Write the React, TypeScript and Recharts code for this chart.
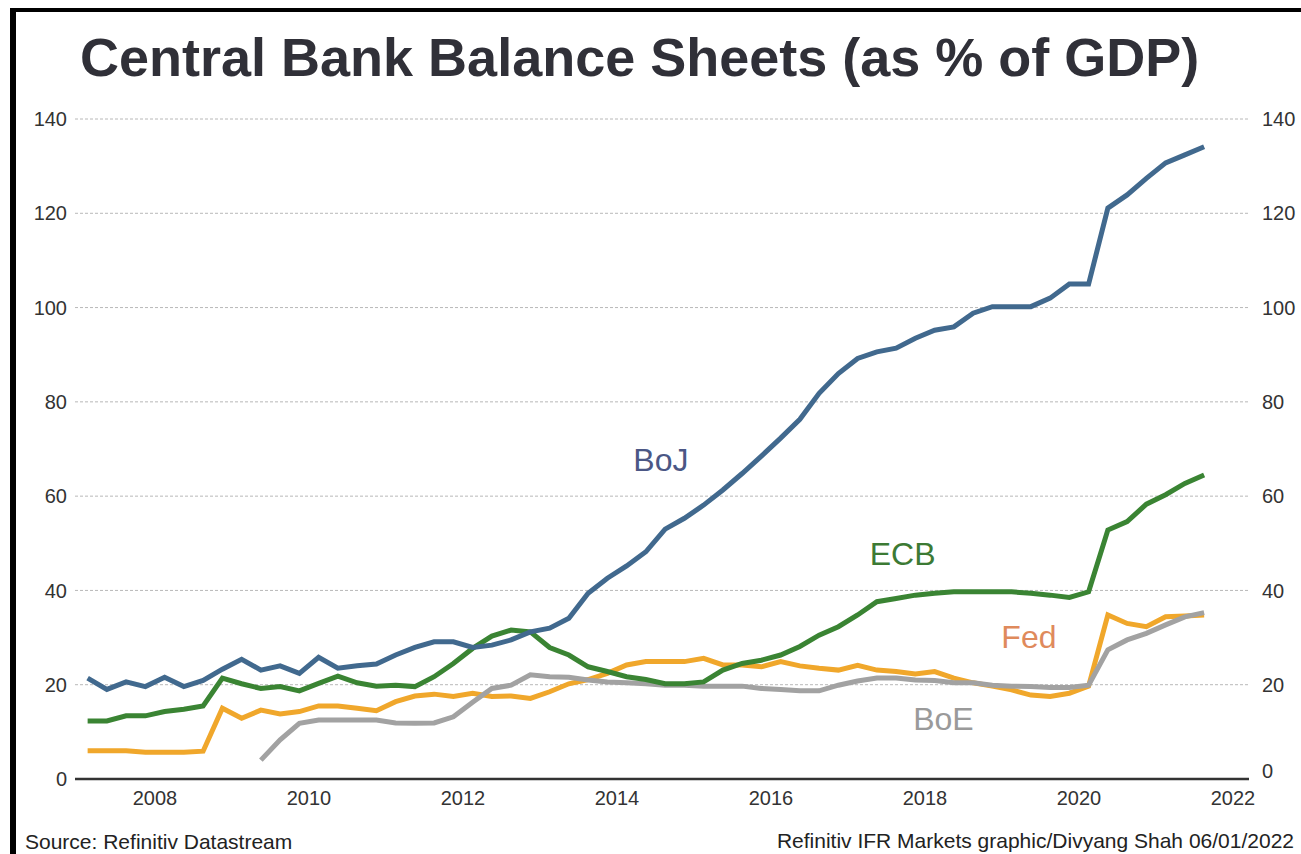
import { CartesianGrid, Line, LineChart, ReferenceDot, XAxis, YAxis } from "recharts";

// quarterly observations, 2007 Q1 .. 2021 Q3
const quarters = [
  "2007Q1", "2007Q2", "2007Q3", "2007Q4", "2008Q1", "2008Q2", "2008Q3", "2008Q4",
  "2009Q1", "2009Q2", "2009Q3", "2009Q4", "2010Q1", "2010Q2", "2010Q3", "2010Q4",
  "2011Q1", "2011Q2", "2011Q3", "2011Q4", "2012Q1", "2012Q2", "2012Q3", "2012Q4",
  "2013Q1", "2013Q2", "2013Q3", "2013Q4", "2014Q1", "2014Q2", "2014Q3", "2014Q4",
  "2015Q1", "2015Q2", "2015Q3", "2015Q4", "2016Q1", "2016Q2", "2016Q3", "2016Q4",
  "2017Q1", "2017Q2", "2017Q3", "2017Q4", "2018Q1", "2018Q2", "2018Q3", "2018Q4",
  "2019Q1", "2019Q2", "2019Q3", "2019Q4", "2020Q1", "2020Q2", "2020Q3", "2020Q4",
  "2021Q1", "2021Q2", "2021Q3",
];

const boj = [
  21.4, 19.0, 20.6, 19.6, 21.6, 19.6, 20.9, 23.3, 25.4, 23.1,
  24.0, 22.4, 25.8, 23.5, 24.0, 24.4, 26.3, 27.9, 29.1, 29.1,
  27.9, 28.4, 29.5, 31.2, 32.0, 34.1, 39.4, 42.6, 45.2, 48.2,
  53.0, 55.3, 58.1, 61.3, 64.8, 68.5, 72.3, 76.3, 81.8, 86.0,
  89.2, 90.6, 91.4, 93.5, 95.2, 95.9, 98.8, 100.2, 100.2, 100.2,
  102.0, 105.0, 105.0, 121.1, 123.9, 127.4, 130.7, 132.4, 134.1,
];

const ecb = [
  12.3, 12.3, 13.4, 13.4, 14.3, 14.8, 15.5, 21.4, 20.2, 19.2,
  19.6, 18.7, 20.3, 21.8, 20.4, 19.7, 19.9, 19.6, 21.7, 24.5,
  27.7, 30.3, 31.6, 31.2, 27.9, 26.3, 23.8, 22.8, 21.7, 21.1,
  20.2, 20.2, 20.6, 23.1, 24.5, 25.2, 26.3, 28.1, 30.5, 32.3,
  34.8, 37.6, 38.3, 39.0, 39.4, 39.7, 39.7, 39.7, 39.7, 39.4,
  39.0, 38.5, 39.7, 52.8, 54.6, 58.3, 60.3, 62.7, 64.5,
];

const fed = [
  6.0, 6.0, 6.0, 5.7, 5.7, 5.7, 5.9, 15.0, 12.9, 14.6,
  13.8, 14.3, 15.5, 15.5, 15.0, 14.5, 16.4, 17.6, 18.0, 17.5,
  18.2, 17.5, 17.6, 17.1, 18.5, 20.2, 21.1, 22.4, 24.2, 24.9,
  24.9, 24.9, 25.6, 24.2, 24.2, 23.8, 24.9, 24.0, 23.5, 23.1,
  24.1, 23.1, 22.8, 22.3, 22.8, 21.4, 20.4, 19.7, 18.9, 17.8,
  17.5, 18.2, 19.7, 34.8, 33.0, 32.3, 34.4, 34.6, 34.8,
];

const boe = [
  null, null, null, null, null, null, null, null, null, 4.0,
  8.3, 11.8, 12.5, 12.5, 12.5, 12.5, 11.9, 11.8, 11.9, 13.2,
  16.3, 19.2, 19.9, 22.1, 21.7, 21.6, 21.0, 20.6, 20.4, 20.2,
  19.9, 19.9, 19.7, 19.7, 19.7, 19.2, 19.0, 18.7, 18.7, 19.9,
  20.8, 21.4, 21.4, 21.0, 20.9, 20.4, 20.4, 19.9, 19.7, 19.6,
  19.4, 19.4, 19.9, 27.4, 29.5, 30.9, 32.7, 34.4, 35.3,
];

const yearTicks = [2008, 2010, 2012, 2014, 2016, 2018, 2020, 2022];
const valueTicks = [0, 20, 40, 60, 80, 100, 120, 140];

// in-chart series names, placed in data coordinates
const seriesLabels = [
  { name: "BoJ", year: 2014.57, value: 67.7, color: "#4b5785" },
  { name: "ECB", year: 2017.71, value: 47.9, color: "#3c7a34" },
  { name: "Fed", year: 2019.35, value: 30.3, color: "#df8a5c" },
  { name: "BoE", year: 2018.24, value: 12.7, color: "#9a9a9a" },
];

const data = quarters.map((q, i) => ({
  t: Number(q.slice(0, 4)) + (Number(q.slice(5)) - 0.5) / 4,
  boj: boj[i],
  ecb: ecb[i],
  fed: fed[i],
  boe: boe[i],
}));

const FONT = "'Liberation Sans', Arial, Helvetica, sans-serif";

function RightTick(props: any) {
  const { x, y, payload } = props;
  return (
    <text
      x={x}
      y={payload.value === 0 ? y - 8 : y}
      dy="0.355em"
      textAnchor="start"
      fontSize={20}
      fill="#333"
    >
      {payload.value}
    </text>
  );
}

export default function App() {
  return (
    <div
      style={{
        position: "absolute",
        left: 0,
        top: 0,
        width: 1301,
        height: 854,
        overflow: "hidden",
        background: "#fff",
        fontFamily: FONT,
      }}
    >
      <div style={{ position: "absolute", left: 0, top: 0 }}>
        <LineChart width={1301} height={854} data={data} margin={{ top: 119, right: 0, bottom: 45, left: 0 }}>
          <CartesianGrid
            yAxisId="left"
            vertical={false}
            stroke="#b8b8b8"
            strokeDasharray="3 2"
          />
          <XAxis
            dataKey="t"
            type="number"
            domain={[2006.961, 2022.208]}
            ticks={yearTicks}
            interval={0}
            height={30}
            tickSize={0}
            tickMargin={12}
            axisLine={{ stroke: "#333", strokeWidth: 2.5 }}
            tick={{ fontSize: 20, fill: "#333" }}
            allowDataOverflow
          />
          <YAxis
            yAxisId="left"
            domain={[0, 140]}
            ticks={valueTicks}
            interval={0}
            width={75}
            tickSize={0}
            tickMargin={8}
            axisLine={false}
            tick={{ fontSize: 20, fill: "#333" }}
          />
          <YAxis
            yAxisId="right"
            orientation="right"
            domain={[0, 140]}
            ticks={valueTicks}
            interval={0}
            width={52}
            tickSize={0}
            tickMargin={13}
            axisLine={false}
            tick={<RightTick />}
          />
          {/* both axes share the same 0-140 scale */}
          <Line yAxisId="right" type="linear" dataKey="fed" stroke="#f0a72b" strokeWidth={5} dot={false} isAnimationActive={false} />
          <Line yAxisId="left" type="linear" dataKey="boe" stroke="#a2a2a2" strokeWidth={5} dot={false} isAnimationActive={false} />
          <Line yAxisId="left" type="linear" dataKey="ecb" stroke="#3a8433" strokeWidth={5} dot={false} isAnimationActive={false} />
          <Line yAxisId="left" type="linear" dataKey="boj" stroke="#41698e" strokeWidth={5} dot={false} isAnimationActive={false} />
          {seriesLabels.map((l) => (
            <ReferenceDot
              key={l.name}
              yAxisId="left"
              x={l.year}
              y={l.value}
              r={1}
              fill="none"
              stroke="none"
              label={{ value: l.name, position: "center", fill: l.color, fontSize: 32, fontFamily: FONT }}
            />
          ))}
        </LineChart>
      </div>
      <svg
        width={1301}
        height={854}
        style={{ position: "absolute", left: 0, top: 0, pointerEvents: "none" }}
      >
        <text x={80} y={76} fontSize={54} fontWeight="bold" fill="#303038">
          Central Bank Balance Sheets (as % of GDP)
        </text>
        <text x={25} y={849} fontSize={21} fill="#222">
          Source: Refinitiv Datastream
        </text>
        <text x={1294} y={848} fontSize={21} fill="#222" textAnchor="end">
          Refinitiv IFR Markets graphic/Divyang Shah 06/01/2022
        </text>
      </svg>
      <div style={{ position: "absolute", left: 10, top: 8, width: 6, height: 846, background: "#000" }} />
      <div style={{ position: "absolute", left: 10, top: 8, width: 1291, height: 4, background: "#000" }} />
    </div>
  );
}
